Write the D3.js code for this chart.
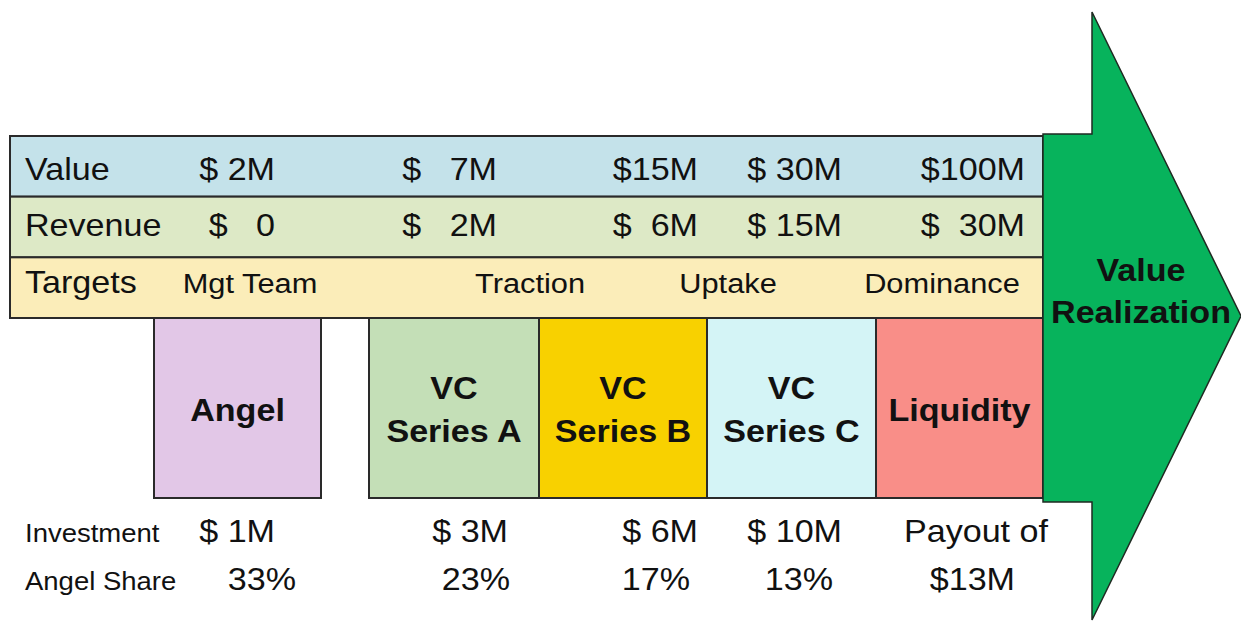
<!DOCTYPE html>
<html>
<head>
<meta charset="utf-8">
<script src="https://d3js.org/d3.v7.min.js"></script>
<style>
  body { margin: 0; background: #ffffff; }
  text { font-family: "Liberation Sans", Arial, sans-serif; fill: #111; white-space: pre; }
</style>
</head>
<body>
<script>
// data
var stages = ["Angel", "VC Series A", "VC Series B", "VC Series C", "Liquidity"];
var rowLabels = ["Value", "Revenue", "Targets"];
var valueRow = ["$ 2M", "$   7M", "$15M", "$ 30M", "$100M"];
var revenueRow = ["$   0", "$   2M", "$  6M", "$ 15M", "$  30M"];
var targets = ["Mgt Team", "Traction", "Uptake", "Dominance"];
var bottomLabels = ["Investment", "Angel Share"];
var investment = ["$ 1M", "$ 3M", "$ 6M", "$ 10M", "Payout of"];
var angelShare = ["33%", "23%", "17%", "13%", "$13M"];
var arrowLabel = ["Value", "Realization"];

var W = 1241, H = 622;
var sx = 1.1; // text in the picture is a little wide

var svg = d3.select("body").append("svg")
    .attr("width", W)
    .attr("height", H);

// layout scales
var tableLeft = 10, tableRight = 1043;
var rowY = d3.scaleBand().domain(rowLabels).range([136, 318]);
var rowBase = d3.scaleOrdinal().domain(rowLabels).range([44, 39, 36]);
var boxTop = rowY.range()[1], boxBottom = 498;

var boxLeft = d3.scaleOrdinal().domain(stages).range([154, 369, 539, 707, 876]);
var boxRight = d3.scaleOrdinal().domain(stages).range([321, 539, 707, 876, 1043]);
var boxColor = d3.scaleOrdinal().domain(stages)
    .range(["#e2c7e7", "#c4dfb7", "#f8d100", "#d4f4f6", "#f98e88"]);
var rowColor = d3.scaleOrdinal().domain(rowLabels)
    .range(["#c4e2ea", "#dde9c6", "#fbedb9"]);

var colEnd = d3.scaleOrdinal().domain(d3.range(5)).range([275, 497, 698, 842, 1025]);
var targetX = d3.scaleOrdinal().domain(targets).range([250, 530, 728, 942]);
var invEnd = d3.scaleOrdinal().domain(d3.range(5)).range([275, 508, 698, 842, 1048]);
var shareEnd = d3.scaleOrdinal().domain(d3.range(5)).range([296, 510, 690, 833, 1015]);

function put(sel, x, y) {
    return sel.attr("transform", "translate(" + x + "," + y + ") scale(" + sx + ",1)");
}

// table rows
svg.append("g").selectAll("rect")
    .data(rowLabels)
    .enter().append("rect")
    .attr("x", tableLeft)
    .attr("y", function (d) { return rowY(d); })
    .attr("width", tableRight - tableLeft)
    .attr("height", rowY.bandwidth())
    .attr("fill", function (d) { return rowColor(d); })
    .attr("stroke", "#2a2a2a")
    .attr("stroke-width", 2);

// row labels
svg.append("g").selectAll("text")
    .data(rowLabels)
    .enter().append("text")
    .attr("font-size", 31)
    .text(function (d) { return d; })
    .each(function (d) { put(d3.select(this), 25, rowY(d) + rowBase(d)); });

// value and revenue rows
[valueRow, revenueRow].forEach(function (row, r) {
    var lab = rowLabels[r];
    svg.append("g").selectAll("text")
        .data(row)
        .enter().append("text")
        .attr("xml:space", "preserve")
        .attr("font-size", 31)
        .attr("text-anchor", "end")
        .text(function (d) { return d; })
        .each(function (d, i) { put(d3.select(this), colEnd(i), rowY(lab) + rowBase(lab)); });
});

// targets
svg.append("g").selectAll("text")
    .data(targets)
    .enter().append("text")
    .attr("font-size", 28)
    .attr("text-anchor", "middle")
    .text(function (d) { return d; })
    .each(function (d) { put(d3.select(this), targetX(d), rowY("Targets") + rowBase("Targets")); });

// stage boxes
var boxes = svg.append("g").selectAll("g")
    .data(stages)
    .enter().append("g");

boxes.append("rect")
    .attr("x", function (d) { return boxLeft(d); })
    .attr("y", boxTop)
    .attr("width", function (d) { return boxRight(d) - boxLeft(d); })
    .attr("height", boxBottom - boxTop)
    .attr("fill", function (d) { return boxColor(d); })
    .attr("stroke", "#2a2a2a")
    .attr("stroke-width", 2);

boxes.each(function (d) {
    var g = d3.select(this);
    var cx = (boxLeft(d) + boxRight(d)) / 2;
    var lines = d.indexOf("VC ") === 0 ? ["VC", d.slice(3)] : [d];
    var y0 = lines.length === 1 ? 421 : 399;
    lines.forEach(function (line, k) {
        put(g.append("text")
            .attr("font-size", 31)
            .attr("font-weight", "bold")
            .attr("text-anchor", "middle")
            .text(line), cx, y0 + k * 43);
    });
});

// arrow
var shaftX0 = tableRight, shaftX1 = 1092, shaftY0 = 134, shaftY1 = 502;
var headTop = 12, headBottom = 620, tipX = W;
var arrowPts = [
    [shaftX0, shaftY0], [shaftX1, shaftY0], [shaftX1, headTop],
    [tipX, (headTop + headBottom) / 2],
    [shaftX1, headBottom], [shaftX1, shaftY1], [shaftX0, shaftY1]
];
svg.append("path")
    .attr("d", d3.line()(arrowPts) + "Z")
    .attr("fill", "#07b35c")
    .attr("stroke", "#1f2a22")
    .attr("stroke-width", 1.5);

svg.append("g").selectAll("text")
    .data(arrowLabel)
    .enter().append("text")
    .attr("font-size", 31)
    .attr("font-weight", "bold")
    .attr("text-anchor", "middle")
    .text(function (d) { return d; })
    .each(function (d, i) { put(d3.select(this), 1141, 281 + i * 42); });

// bottom rows
svg.append("g").selectAll("text")
    .data(bottomLabels)
    .enter().append("text")
    .attr("font-size", 25)
    .text(function (d) { return d; })
    .each(function (d, i) { put(d3.select(this), 25, 542 + i * 48); });

svg.append("g").selectAll("text")
    .data(investment)
    .enter().append("text")
    .attr("xml:space", "preserve")
    .attr("font-size", 31)
    .attr("text-anchor", "end")
    .text(function (d) { return d; })
    .each(function (d, i) { put(d3.select(this), invEnd(i), 542); });

svg.append("g").selectAll("text")
    .data(angelShare)
    .enter().append("text")
    .attr("font-size", 31)
    .attr("text-anchor", "end")
    .text(function (d) { return d; })
    .each(function (d, i) { put(d3.select(this), shareEnd(i), 590); });
</script>
</body>
</html>
